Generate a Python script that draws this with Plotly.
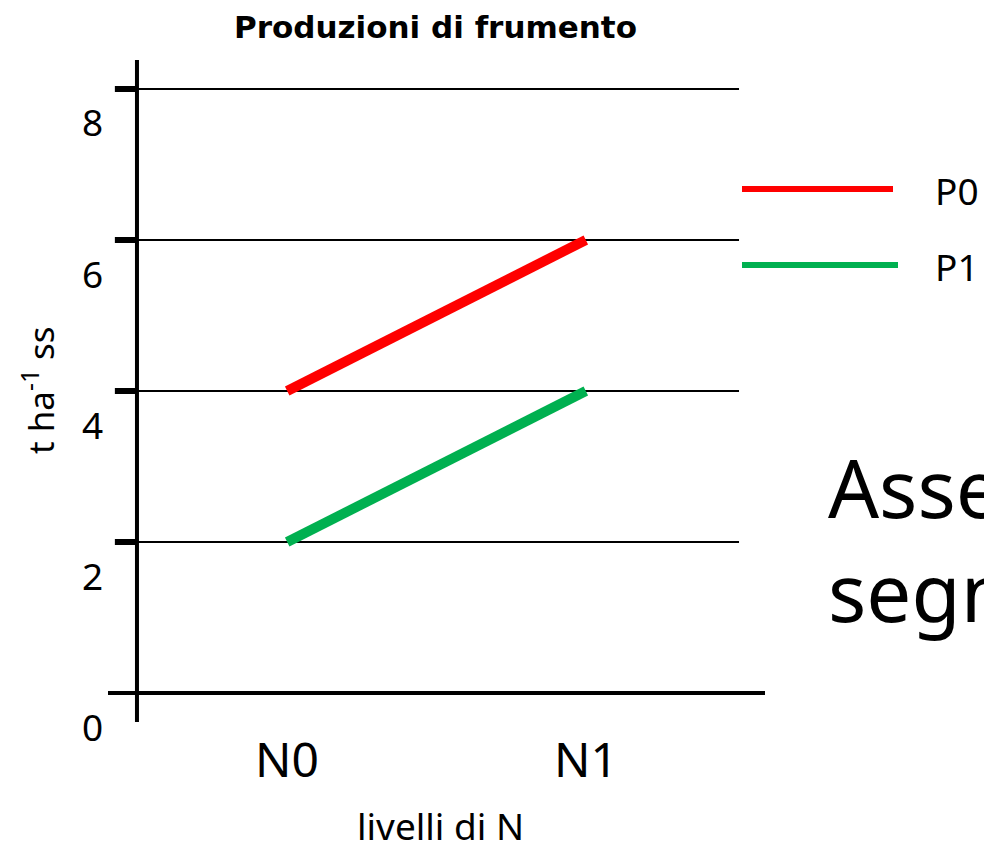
import plotly.graph_objects as go

# Data
levels = ["N0", "N1"]
series_names = ["P0", "P1"]
p0_values = [4, 6]
p1_values = [2, 4]
series_colors = ["#FF0000", "#00B050"]
y_ticks = [0, 2, 4, 6, 8]

title_text = "Produzioni di frumento"
x_title = "livelli di N"
y_title = "t ha<sup>-1</sup> ss"
side_text = "Asse<br>segn"

FONT = "Noto Sans"
TITLE_FONT = "DejaVu Sans"

x_pos = list(range(len(levels)))

fig = go.Figure()
for name, vals, col in zip(series_names, [p0_values, p1_values], series_colors):
    fig.add_trace(go.Scatter(
        x=x_pos, y=vals, mode="lines", name=name,
        line=dict(color=col, width=10), showlegend=False, hoverinfo="skip",
    ))

x_axis_at = -0.503   # position of the vertical axis in data units
grid_end = 1.513
tick_start = -0.577

shapes = []
# horizontal reference lines
for t in y_ticks[1:]:
    shapes.append(dict(type="line", xref="x", yref="y", x0=x_axis_at, x1=grid_end,
                       y0=t, y1=t, line=dict(color="black", width=2), layer="below"))
    shapes.append(dict(type="line", xref="x", yref="y", x0=tick_start, x1=x_axis_at,
                       y0=t, y1=t, line=dict(color="black", width=6), layer="above"))
# axis lines
shapes.append(dict(type="line", xref="x", yref="paper", x0=x_axis_at, x1=x_axis_at,
                   y0=0, y1=1, line=dict(color="black", width=4)))
shapes.append(dict(type="line", xref="paper", yref="y", x0=0, x1=1,
                   y0=0, y1=0, line=dict(color="black", width=4)))

# legend keys drawn on the right
W, H = 984, 844
ml, mr, mt, mb = 108, 219, 60, 122
pw, ph = W - ml - mr, H - mt - mb

def px_x(px):
    return (px - ml) / pw

def px_y(py):
    return (H - mb - py) / ph

legend_rows = [189, 265]
legend_ends = [893, 898]
annotations = []
for name, col, ry, xe in zip(series_names, series_colors, legend_rows, legend_ends):
    shapes.append(dict(type="line", xref="paper", yref="paper",
                       x0=px_x(742), x1=px_x(xe), y0=px_y(ry), y1=px_y(ry),
                       line=dict(color=col, width=6)))
    annotations.append(dict(xref="paper", yref="paper", x=px_x(933), y=px_y(ry + 1),
                            text=name, showarrow=False, xanchor="left", yanchor="middle",
                            font=dict(family=FONT, size=37, color="black")))

# y tick labels (set just below each tick)
for t in y_ticks:
    annotations.append(dict(xref="paper", yref="y", x=px_x(92), y=t, text=str(t),
                            showarrow=False, xanchor="center", yanchor="middle",
                            yshift=-33, font=dict(family=FONT, size=37, color="black")))

# category labels
for xp, lab in zip(x_pos, levels):
    annotations.append(dict(xref="x", yref="y", x=xp, y=0, text=lab, showarrow=False,
                            xanchor="center", yanchor="middle", yshift=-65,
                            font=dict(family=FONT, size=48, color="black")))

annotations.append(dict(xref="paper", yref="paper", x=px_x(440), y=px_y(825),
                        text=x_title, showarrow=False, xanchor="center", yanchor="middle",
                        font=dict(family=FONT, size=37, color="black")))
annotations.append(dict(xref="paper", yref="paper", x=px_x(38), y=px_y(390),
                        text=y_title, showarrow=False, textangle=-90,
                        xanchor="center", yanchor="middle",
                        font=dict(family=FONT, size=35, color="black")))
annotations.append(dict(xref="paper", yref="paper", x=px_x(435), y=px_y(27),
                        text="<b>" + title_text + "</b>", showarrow=False,
                        xanchor="center", yanchor="middle",
                        font=dict(family=TITLE_FONT, size=31, color="black")))
annotations.append(dict(xref="paper", yref="paper", x=px_x(826), y=px_y(538),
                        text=side_text, showarrow=False, xanchor="left", yanchor="middle",
                        align="left",
                        font=dict(family=FONT, size=80, color="black")))

fig.update_layout(
    width=W, height=H,
    margin=dict(l=ml, r=mr, t=mt, b=mb, pad=0),
    paper_bgcolor="white", plot_bgcolor="white",
    xaxis=dict(range=[-0.6, 1.6], visible=False, fixedrange=True),
    yaxis=dict(range=[-0.384, 8.384], visible=False, fixedrange=True),
    shapes=shapes, annotations=annotations,
    showlegend=False,
)

fig.write_html("out.html")
